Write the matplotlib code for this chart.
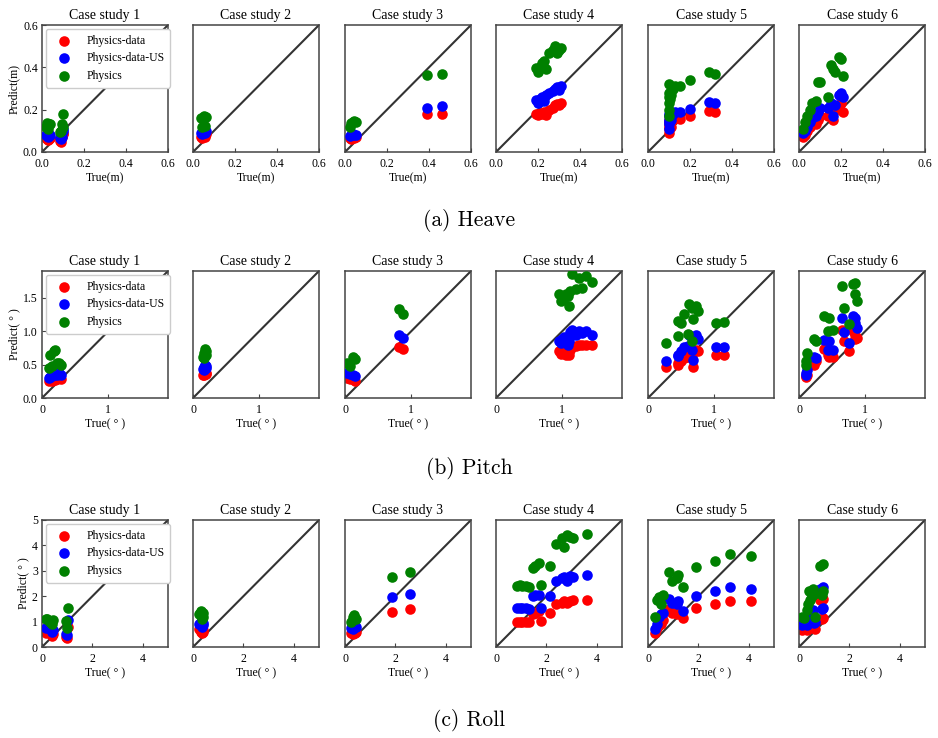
import numpy as np
import matplotlib
matplotlib.use("Agg")
import matplotlib.pyplot as plt

plt.rcParams['font.family'] = ['Liberation Serif', 'DejaVu Serif']
plt.rcParams['mathtext.fontset'] = 'stix'

CASES = ["Case study 1", "Case study 2", "Case study 3", "Case study 4", "Case study 5", "Case study 6"]
METHODS = ["Physics-data", "Physics-data-US", "Physics"]
COLORS = ["red", "blue", "green"]

# ---- Heave (m) ----
heave_true = [
    [0.02, 0.025, 0.03, 0.035, 0.04, 0.085, 0.09, 0.095, 0.1, 0.1],
    [0.04, 0.045, 0.05, 0.05, 0.055, 0.06],
    [0.025, 0.03, 0.04, 0.045, 0.05, 0.39, 0.46],
    [0.19, 0.2, 0.21, 0.22, 0.23, 0.24, 0.25, 0.27, 0.28, 0.29, 0.31, 0.3],
    [0.1, 0.1, 0.1, 0.1, 0.1, 0.1, 0.105, 0.11, 0.11, 0.12, 0.13, 0.15, 0.2, 0.29, 0.32],
    [0.02, 0.03, 0.04, 0.05, 0.06, 0.08, 0.09, 0.1, 0.14, 0.15, 0.16, 0.17, 0.19, 0.2, 0.21],
]
heave_pd = [
    [0.065, 0.06, 0.055, 0.06, 0.065, 0.05, 0.045, 0.07, 0.09, 0.085],
    [0.07, 0.065, 0.08, 0.09, 0.07, 0.085],
    [0.065, 0.06, 0.07, 0.065, 0.07, 0.18, 0.18],
    [0.18, 0.175, 0.185, 0.18, 0.19, 0.175, 0.2, 0.21, 0.22, 0.225, 0.23, 0.22],
    [0.09, 0.11, 0.12, 0.13, 0.14, 0.15, 0.16, 0.12, 0.14, 0.15, 0.16, 0.155, 0.17, 0.195, 0.19],
    [0.07, 0.08, 0.1, 0.12, 0.14, 0.13, 0.15, 0.17, 0.17, 0.19, 0.15, 0.2, 0.22, 0.23, 0.19],
]
heave_pdus = [
    [0.08, 0.075, 0.07, 0.075, 0.08, 0.065, 0.06, 0.07, 0.11, 0.1],
    [0.09, 0.085, 0.1, 0.105, 0.09, 0.1],
    [0.075, 0.08, 0.085, 0.08, 0.08, 0.21, 0.215],
    [0.245, 0.23, 0.25, 0.26, 0.24, 0.27, 0.28, 0.29, 0.3, 0.305, 0.31, 0.295],
    [0.11, 0.13, 0.14, 0.15, 0.17, 0.18, 0.16, 0.15, 0.17, 0.18, 0.19, 0.19, 0.205, 0.235, 0.23],
    [0.09, 0.1, 0.12, 0.14, 0.16, 0.17, 0.19, 0.21, 0.21, 0.23, 0.17, 0.22, 0.27, 0.28, 0.26],
]
heave_phy = [
    [0.12, 0.135, 0.11, 0.13, 0.13, 0.095, 0.1, 0.13, 0.18, 0.12],
    [0.16, 0.12, 0.17, 0.165, 0.125, 0.165],
    [0.12, 0.135, 0.14, 0.145, 0.14, 0.365, 0.37],
    [0.395, 0.38, 0.4, 0.42, 0.43, 0.39, 0.47, 0.48, 0.5, 0.47, 0.49, 0.48],
    [0.17, 0.2, 0.23, 0.26, 0.28, 0.32, 0.25, 0.27, 0.29, 0.3, 0.31, 0.31, 0.34, 0.38, 0.37],
    [0.11, 0.14, 0.17, 0.2, 0.23, 0.24, 0.33, 0.33, 0.26, 0.41, 0.39, 0.38, 0.45, 0.44, 0.36],
]

# ---- Pitch (deg) ----
pitch_true = [
    [0.1, 0.12, 0.15, 0.18, 0.2, 0.22, 0.25, 0.28],
    [0.15, 0.17, 0.18, 0.2, 0.16, 0.19],
    [0.03, 0.08, 0.12, 0.15, 0.82, 0.88],
    [0.95, 0.98, 1.0, 1.05, 1.1, 1.12, 1.15, 1.2, 1.25, 1.3, 1.35, 1.45, 1.02, 1.08],
    [0.27, 0.45, 0.5, 0.55, 0.62, 0.67, 0.72, 0.75, 0.68, 0.45, 0.6, 0.67, 1.03, 1.15],
    [0.1, 0.12, 0.22, 0.25, 0.38, 0.45, 0.43, 0.52, 0.65, 0.68, 0.75, 0.82, 0.85, 0.85, 0.87, 0.1],
]
pitch_pd = [
    [0.25, 0.27, 0.26, 0.28, 0.27, 0.28, 0.3, 0.29],
    [0.35, 0.36, 0.37, 0.38, 0.34, 0.36],
    [0.3, 0.29, 0.28, 0.26, 0.77, 0.73],
    [0.7, 0.66, 0.68, 0.65, 0.64, 0.72, 0.76, 0.78, 0.8, 0.79, 0.8, 0.8, 0.74, 0.7],
    [0.46, 0.52, 0.55, 0.6, 0.68, 0.7, 0.72, 0.7, 0.47, 0.5, 0.62, 0.65, 0.64, 0.65],
    [0.33, 0.35, 0.5, 0.55, 0.74, 0.62, 0.65, 0.62, 1.02, 0.85, 0.7, 1.0, 0.95, 0.88, 0.9, 0.31],
]
pitch_pdus = [
    [0.3, 0.32, 0.33, 0.35, 0.36, 0.35, 0.37, 0.34],
    [0.43, 0.47, 0.5, 0.45, 0.42, 0.48],
    [0.37, 0.36, 0.35, 0.33, 0.94, 0.9],
    [0.85, 0.82, 0.88, 0.9, 0.86, 0.98, 1.02, 0.95, 1.0, 0.97, 1.0, 0.95, 0.92, 0.8],
    [0.56, 0.63, 0.7, 0.77, 0.95, 0.9, 0.94, 0.88, 0.57, 0.65, 0.78, 0.72, 0.76, 0.77],
    [0.38, 0.42, 0.62, 0.6, 0.87, 0.86, 0.72, 0.72, 1.2, 0.98, 0.82, 1.22, 1.2, 1.12, 1.05, 0.35],
]
pitch_phy = [
    [0.45, 0.65, 0.48, 0.7, 0.72, 0.52, 0.53, 0.5],
    [0.62, 0.68, 0.73, 0.65, 0.6, 0.7],
    [0.53, 0.48, 0.62, 0.58, 1.33, 1.26],
    [1.55, 1.45, 1.5, 1.56, 1.38, 1.6, 1.86, 1.63, 1.8, 1.65, 1.82, 1.73, 1.5, 1.52],
    [0.82, 1.15, 1.12, 1.25, 1.4, 1.35, 1.38, 1.3, 1.18, 0.93, 0.96, 0.86, 1.12, 1.13],
    [0.55, 0.68, 0.88, 0.85, 1.22, 1.2, 1.0, 1.02, 1.68, 1.35, 1.1, 1.7, 1.72, 1.55, 1.45, 0.5],
]

# ---- Roll (deg) ----
roll_true = [
    [0.15, 0.2, 0.4, 0.45, 0.95, 1.0, 1.05, 0.3],
    [0.25, 0.3, 0.35, 0.4, 0.3, 0.38],
    [0.25, 0.3, 0.35, 0.4, 0.45, 1.88, 2.57],
    [0.85, 0.95, 1.05, 1.2, 1.3, 1.45, 1.55, 1.7, 1.8, 2.15, 2.4, 2.6, 2.7, 2.8, 2.95, 3.05, 3.6],
    [0.27, 0.35, 0.45, 0.5, 0.6, 0.85, 0.95, 1.15, 1.2, 1.4, 1.9, 2.65, 3.25, 4.1],
    [0.1, 0.2, 0.3, 0.35, 0.4, 0.45, 0.55, 0.6, 0.65, 0.85, 0.95, 0.9, 0.95, 0.5],
]
roll_pd = [
    [0.55, 0.6, 0.45, 0.5, 0.38, 0.35, 0.8, 0.55],
    [0.7, 0.6, 0.55, 0.65, 0.72, 0.58],
    [0.55, 0.5, 0.6, 0.55, 0.58, 1.39, 1.5],
    [1.0, 1.0, 1.0, 1.0, 0.98, 1.3, 1.35, 1.4, 1.02, 1.35, 1.7, 1.75, 1.8, 1.75, 1.8, 1.85, 1.85],
    [0.55, 0.75, 0.85, 0.9, 1.05, 1.48, 1.35, 1.3, 1.35, 1.15, 1.55, 1.7, 1.8, 1.8],
    [0.65, 0.7, 0.65, 0.95, 1.15, 1.0, 1.1, 0.75, 0.7, 1.85, 1.9, 1.1, 1.15, 0.9],
]
roll_pdus = [
    [0.75, 0.8, 0.6, 0.65, 0.5, 0.48, 1.05, 0.7],
    [0.9, 0.85, 0.8, 0.95, 0.98, 0.85],
    [0.75, 0.7, 0.85, 0.8, 0.78, 1.95, 2.08],
    [1.55, 1.55, 1.52, 1.55, 1.5, 2.0, 2.05, 2.05, 1.55, 2.0, 2.6, 2.7, 2.75, 2.6, 2.8, 2.75, 2.82],
    [0.72, 0.9, 1.2, 1.3, 1.35, 1.9, 1.75, 1.7, 1.8, 1.4, 2.0, 2.2, 2.35, 2.3],
    [0.85, 0.9, 0.85, 1.25, 1.5, 1.3, 1.45, 0.95, 1.0, 2.3, 2.35, 1.5, 1.55, 1.2],
]
roll_phy = [
    [1.1, 1.12, 0.9, 1.05, 1.02, 0.75, 1.55, 1.0],
    [1.3, 1.42, 1.1, 1.35, 1.38, 1.2],
    [1.0, 1.2, 1.25, 1.15, 1.1, 2.75, 2.97],
    [2.4, 2.45, 2.4, 2.4, 2.35, 3.1, 3.2, 3.3, 2.45, 3.2, 4.05, 4.3, 3.95, 4.4, 4.35, 4.3, 4.45],
    [1.17, 1.85, 1.95, 1.7, 2.05, 2.95, 2.6, 2.7, 2.85, 2.35, 3.15, 3.4, 3.68, 3.6],
    [1.2, 1.15, 1.45, 1.7, 2.2, 1.85, 2.3, 2.1, 1.2, 3.2, 3.25, 2.05, 2.2, 2.0],
]

rows = [
    dict(true=heave_true, preds=[heave_pd, heave_pdus, heave_phy], lim=0.6,
         xticks=["0.0", "0.2", "0.4", "0.6"], yticks=["0.0", "0.2", "0.4", "0.6"],
         xlabel="True(m)", ylabel="Predict(m)", caption="(a) Heave", top=25, cap_y=221),
    dict(true=pitch_true, preds=[pitch_pd, pitch_pdus, pitch_phy], lim=1.9,
         xticks=["0", "1"], yticks=["0.0", "0.5", "1.0", "1.5"],
         xlabel="True( ° )", ylabel="Predict( ° )", caption="(b) Pitch", top=271, cap_y=468),
    dict(true=roll_true, preds=[roll_pd, roll_pdus, roll_phy], lim=5,
         xticks=["0", "2", "4"], yticks=["0", "1", "2", "3", "4", "5"],
         xlabel="True( ° )", ylabel="Predict( ° )", caption="(c) Roll", top=520, cap_y=720),
]

W, H = 938, 738
fig = plt.figure(figsize=(W / 100, H / 100), dpi=100)
lefts = [42, 193, 345, 496, 648, 799]
aw, ah = 126, 127

for r in rows:
    for c in range(6):
        ax = fig.add_axes([lefts[c] / W, 1 - (r["top"] + ah) / H, aw / W, ah / H])
        lim = r["lim"]
        ax.plot([0, lim], [0, lim], color="#333333", lw=1.5, zorder=1)
        for m in range(3):
            ax.scatter(r["true"][c], r["preds"][m][c], s=58, color=COLORS[m],
                       label=METHODS[m], zorder=2 + m, linewidths=0)
        ax.set_xlim(0, lim)
        ax.set_ylim(0, lim)
        ax.set_xticks([float(t) for t in r["xticks"]])
        ax.set_xticklabels(r["xticks"])
        ax.set_title(CASES[c], fontsize=10, pad=4)
        ax.set_xlabel(r["xlabel"], fontsize=8.5, labelpad=2)
        for sp in ax.spines.values():
            sp.set_color("#444444")
            sp.set_linewidth(1.1)
        ax.tick_params(direction="in", length=3, labelsize=8.5, color="#444444")
        ax.tick_params(axis="x", pad=4)
        ax.tick_params(axis="y", pad=3)
        if c == 0:
            ax.set_yticks([float(t) for t in r["yticks"]])
            ax.set_yticklabels(r["yticks"])
            ax.set_ylabel(r["ylabel"], fontsize=8.5, labelpad=2)
            ax.legend(loc="upper left", fontsize=8.5, handletextpad=0.9, borderpad=0.5,
                      labelspacing=0.45, edgecolor="#cccccc", framealpha=1,
                      borderaxespad=0.35)
        else:
            ax.set_yticks([])
    fig.text(0.5, 1 - r["cap_y"] / H, r["caption"], ha="center", va="center",
             fontsize=15.5, family="cmr10")

plt.savefig("out.png", dpi=100)
